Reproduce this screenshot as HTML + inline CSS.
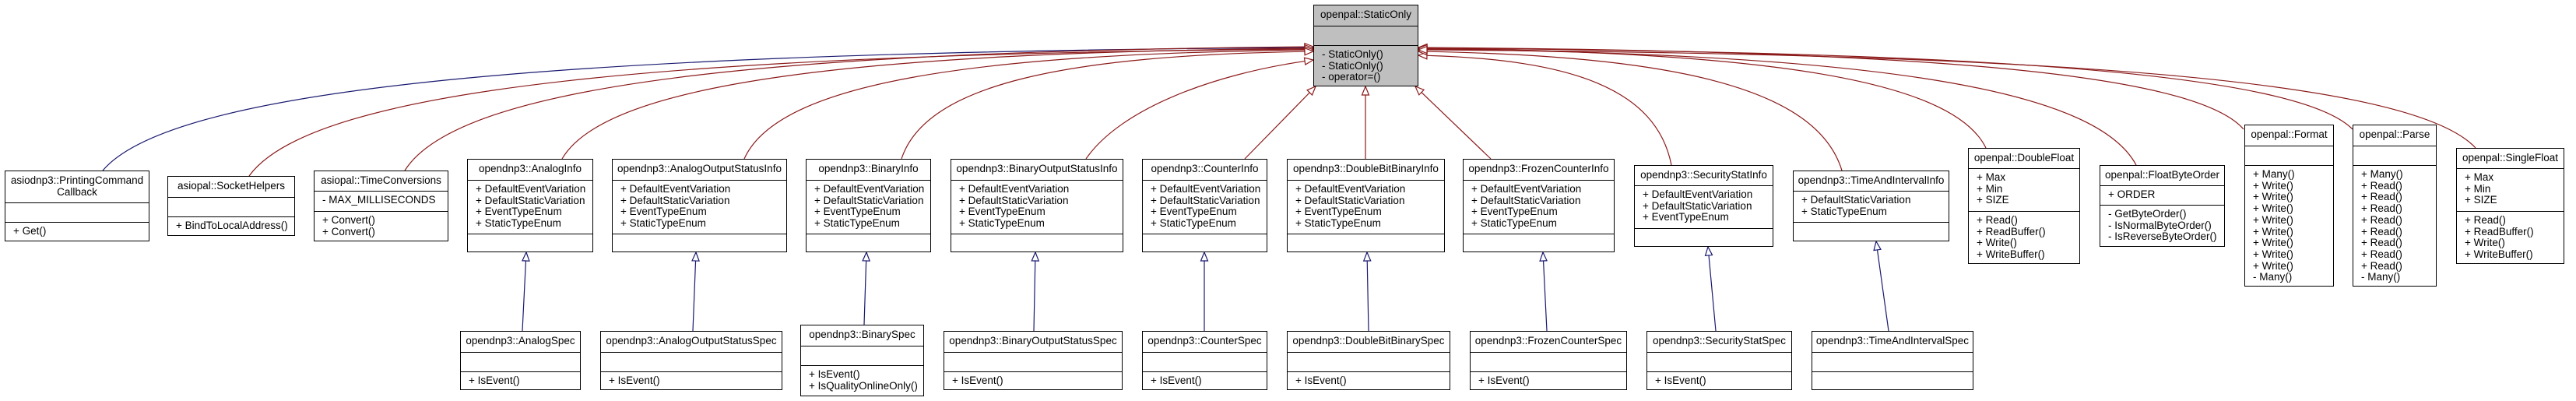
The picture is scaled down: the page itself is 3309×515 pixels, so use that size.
<!DOCTYPE html>
<html><head><meta charset="utf-8"><style>
html,body{margin:0;padding:0;background:#fff;}
body{width:3309px;height:515px;position:relative;overflow:hidden;font-family:"Liberation Sans",sans-serif;font-size:13.5px;color:#000;}
.b{position:absolute;box-sizing:border-box;border:1px solid #000;background:#fff;display:flex;flex-direction:column;}
.b>div{box-sizing:border-box;line-height:14.7px;padding:4px 0 0 10px;white-space:nowrap;overflow:hidden;}
.b>div.t{text-align:center;padding:5px 2px 0 2px;}
.b>div+div{border-top:1.5px solid #000;}
.b>div:last-child{flex:1;}
svg{position:absolute;left:0;top:0;}
</style></head><body>
<svg id="s" width="3309" height="515"></svg>

<div class="b" style="left:1687px;top:6px;width:135px;height:105px;background:#bfbfbf"><div class="t" style="height:26px">openpal::StaticOnly</div><div style="height:25px"></div><div>- StaticOnly()<br>- StaticOnly()<br>- operator=()</div></div>

<div class="b" style="left:6px;top:219px;width:186px;height:91px"><div class="t" style="height:40px">asiodnp3::PrintingCommand<br>Callback</div><div style="height:25px"></div><div>+ Get()</div></div>
<div class="b" style="left:215px;top:226px;width:164px;height:77px"><div class="t" style="height:26px">asiopal::SocketHelpers</div><div style="height:25px"></div><div>+ BindToLocalAddress()</div></div>
<div class="b" style="left:403px;top:219px;width:173px;height:91px"><div class="t" style="height:25px">asiopal::TimeConversions</div><div style="height:26px">- MAX_MILLISECONDS</div><div>+ Convert()<br>+ Convert()</div></div>

<div class="b" style="left:600px;top:204px;width:162px;height:120px"><div class="t" style="height:26px">opendnp3::AnalogInfo</div><div style="height:69px">+ DefaultEventVariation<br>+ DefaultStaticVariation<br>+ EventTypeEnum<br>+ StaticTypeEnum</div><div></div></div>
<div class="b" style="left:786px;top:204px;width:225px;height:120px"><div class="t" style="height:26px">opendnp3::AnalogOutputStatusInfo</div><div style="height:69px">+ DefaultEventVariation<br>+ DefaultStaticVariation<br>+ EventTypeEnum<br>+ StaticTypeEnum</div><div></div></div>
<div class="b" style="left:1035px;top:204px;width:161px;height:120px"><div class="t" style="height:26px">opendnp3::BinaryInfo</div><div style="height:69px">+ DefaultEventVariation<br>+ DefaultStaticVariation<br>+ EventTypeEnum<br>+ StaticTypeEnum</div><div></div></div>
<div class="b" style="left:1221px;top:204px;width:222px;height:120px"><div class="t" style="height:26px">opendnp3::BinaryOutputStatusInfo</div><div style="height:69px">+ DefaultEventVariation<br>+ DefaultStaticVariation<br>+ EventTypeEnum<br>+ StaticTypeEnum</div><div></div></div>
<div class="b" style="left:1467px;top:204px;width:161px;height:120px"><div class="t" style="height:26px">opendnp3::CounterInfo</div><div style="height:69px">+ DefaultEventVariation<br>+ DefaultStaticVariation<br>+ EventTypeEnum<br>+ StaticTypeEnum</div><div></div></div>
<div class="b" style="left:1653px;top:204px;width:203px;height:120px"><div class="t" style="height:26px">opendnp3::DoubleBitBinaryInfo</div><div style="height:69px">+ DefaultEventVariation<br>+ DefaultStaticVariation<br>+ EventTypeEnum<br>+ StaticTypeEnum</div><div></div></div>
<div class="b" style="left:1879px;top:204px;width:195px;height:120px"><div class="t" style="height:26px">opendnp3::FrozenCounterInfo</div><div style="height:69px">+ DefaultEventVariation<br>+ DefaultStaticVariation<br>+ EventTypeEnum<br>+ StaticTypeEnum</div><div></div></div>
<div class="b" style="left:2099px;top:212px;width:179px;height:105px"><div class="t" style="height:25px">opendnp3::SecurityStatInfo</div><div style="height:55px">+ DefaultEventVariation<br>+ DefaultStaticVariation<br>+ EventTypeEnum</div><div></div></div>
<div class="b" style="left:2303px;top:219px;width:201px;height:91px"><div class="t" style="height:25px">opendnp3::TimeAndIntervalInfo</div><div style="height:40px">+ DefaultStaticVariation<br>+ StaticTypeEnum</div><div></div></div>

<div class="b" style="left:2528px;top:190px;width:144px;height:149px"><div class="t" style="height:25px">openpal::DoubleFloat</div><div style="height:55px">+ Max<br>+ Min<br>+ SIZE</div><div>+ Read()<br>+ ReadBuffer()<br>+ Write()<br>+ WriteBuffer()</div></div>
<div class="b" style="left:2697px;top:212px;width:161px;height:105px"><div class="t" style="height:25px">openpal::FloatByteOrder</div><div style="height:25px">+ ORDER</div><div>- GetByteOrder()<br>- IsNormalByteOrder()<br>- IsReverseByteOrder()</div></div>
<div class="b" style="left:2883px;top:160px;width:115px;height:208px"><div class="t" style="height:26px">openpal::Format</div><div style="height:25px"></div><div>+ Many()<br>+ Write()<br>+ Write()<br>+ Write()<br>+ Write()<br>+ Write()<br>+ Write()<br>+ Write()<br>+ Write()<br>- Many()</div></div>
<div class="b" style="left:3022px;top:160px;width:108px;height:208px"><div class="t" style="height:26px">openpal::Parse</div><div style="height:25px"></div><div>+ Many()<br>+ Read()<br>+ Read()<br>+ Read()<br>+ Read()<br>+ Read()<br>+ Read()<br>+ Read()<br>+ Read()<br>- Many()</div></div>
<div class="b" style="left:3155px;top:190px;width:139px;height:149px"><div class="t" style="height:25px">openpal::SingleFloat</div><div style="height:55px">+ Max<br>+ Min<br>+ SIZE</div><div>+ Read()<br>+ ReadBuffer()<br>+ Write()<br>+ WriteBuffer()</div></div>

<div class="b" style="left:591px;top:425px;width:155px;height:76px"><div class="t" style="height:26px">opendnp3::AnalogSpec</div><div style="height:25px"></div><div>+ IsEvent()</div></div>
<div class="b" style="left:771px;top:425px;width:234px;height:76px"><div class="t" style="height:26px">opendnp3::AnalogOutputStatusSpec</div><div style="height:25px"></div><div>+ IsEvent()</div></div>
<div class="b" style="left:1028px;top:417px;width:159px;height:92px"><div class="t" style="height:26px">opendnp3::BinarySpec</div><div style="height:25px"></div><div>+ IsEvent()<br>+ IsQualityOnlineOnly()</div></div>
<div class="b" style="left:1212px;top:425px;width:230px;height:76px"><div class="t" style="height:26px">opendnp3::BinaryOutputStatusSpec</div><div style="height:25px"></div><div>+ IsEvent()</div></div>
<div class="b" style="left:1467px;top:425px;width:161px;height:76px"><div class="t" style="height:26px">opendnp3::CounterSpec</div><div style="height:25px"></div><div>+ IsEvent()</div></div>
<div class="b" style="left:1653px;top:425px;width:210px;height:76px"><div class="t" style="height:26px">opendnp3::DoubleBitBinarySpec</div><div style="height:25px"></div><div>+ IsEvent()</div></div>
<div class="b" style="left:1888px;top:425px;width:202px;height:76px"><div class="t" style="height:26px">opendnp3::FrozenCounterSpec</div><div style="height:25px"></div><div>+ IsEvent()</div></div>
<div class="b" style="left:2115px;top:425px;width:187px;height:76px"><div class="t" style="height:26px">opendnp3::SecurityStatSpec</div><div style="height:25px"></div><div>+ IsEvent()</div></div>
<div class="b" style="left:2327px;top:425px;width:208px;height:76px"><div class="t" style="height:26px">opendnp3::TimeAndIntervalSpec</div><div style="height:25px"></div><div></div></div>

<script>
var R="#8b1a1a",B="#191970";
var E=[
[132,219,1687,61,B],[320,226,1687,63,R],[520,219,1687,60,R],[722,204,1687,62,R],[956,204,1687,64,R],[1158,204,1687,66,R],[1395,204,1687,77,R],
[1599,204,1690,111,R],[1754,204,1754,111,R],[1915,204,1818,111,R],
[2147,212,1822,71,R],[2366,219,1822,66,R],[2551,190,1822,62,R],[2744,212,1822,63,R],[2882,166,1822,61,R],[3022,166,1822,62,R],[3180,190,1822,64,R],
[671,425,676,324,B],[890,425,894,324,B],[1110,417,1113,324,B],[1328,425,1330,324,B],[1547,425,1547,324,B],[1758,425,1756,324,B],[1987,425,1982,324,B],[2204,425,2194,317,B],[2426,425,2410,310,B]
];
var s="";
E.forEach(function(e){
 var x0=e[0],y0=e[1],x1=e[2],y1=e[3],c=e[4],dx=x1-x0,dy=y0-y1,c1x,c1y,c2x,c2y;
 if(Math.abs(dx)>300){c1x=x0+0.06*dx;c1y=y0-0.7*dy;c2x=x1-0.6*dx;c2y=y1+0.04*dy;}
 else if(Math.abs(dx)>150){c1x=x0+0.15*dx;c1y=y0-0.5*dy;c2x=x1-0.45*dx;c2y=y1+0.15*dy;}
 else {c1x=x0+dx/3;c1y=y0-dy/3;c2x=x0+2*dx/3;c2y=y0-2*dy/3;}
 var ax=x1-c2x,ay=y1-c2y,L=Math.sqrt(ax*ax+ay*ay);ax/=L;ay/=L;
 var bx=x1-ax*11,by=y1-ay*11,px=-ay*4.5,py=ax*4.5;
 s+='<path d="M'+x0+' '+y0+' C'+c1x+' '+c1y+' '+c2x+' '+c2y+' '+bx+' '+by+'" fill="none" stroke="'+c+'" stroke-width="1.2"/>';
 s+='<polygon points="'+x1+','+y1+' '+(bx+px)+','+(by+py)+' '+(bx-px)+','+(by-py)+'" fill="#fff" stroke="'+c+'" stroke-width="1.2"/>';
});
document.getElementById("s").innerHTML=s;
</script>
</body></html>
